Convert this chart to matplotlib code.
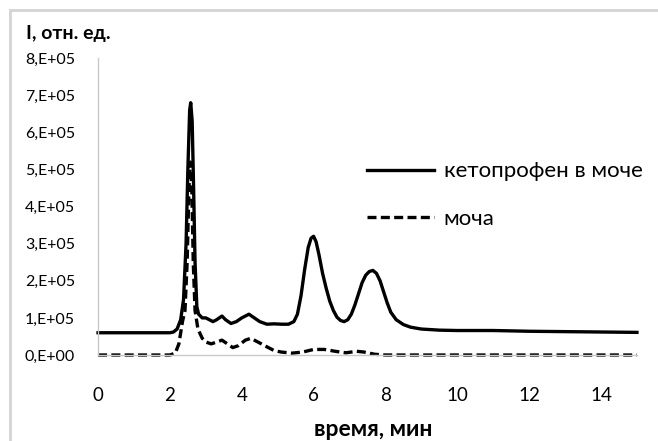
import matplotlib.pyplot as plt
from matplotlib.patches import Rectangle

# retention time, min and intensity (x 1e5)
t_keto = [0, 1.0, 2.0, 2.1, 2.2, 2.3, 2.38, 2.45, 2.5, 2.55, 2.58, 2.62, 2.66, 2.7,
          2.75, 2.8, 2.9, 3.0, 3.1, 3.2, 3.3, 3.45, 3.55, 3.7, 3.85, 4.0, 4.2, 4.35,
          4.5, 4.7, 4.9, 5.1, 5.3, 5.45, 5.55, 5.65, 5.75, 5.85, 5.93, 6.0, 6.07,
          6.15, 6.25, 6.35, 6.45, 6.55, 6.65, 6.75, 6.85, 6.95, 7.05, 7.15, 7.25,
          7.35, 7.45, 7.55, 7.65, 7.75, 7.85, 7.95, 8.05, 8.15, 8.3, 8.5, 8.7, 9.0,
          9.5, 10.0, 11.0, 12.0, 13.0, 14.0, 15.0]
i_keto = [0.6, 0.6, 0.6, 0.62, 0.7, 0.95, 1.5, 3.0, 5.0, 6.6, 6.8, 6.3, 4.5, 2.5,
          1.3, 1.1, 1.0, 1.0, 0.95, 0.9, 0.95, 1.05, 0.95, 0.85, 0.9, 1.0, 1.1, 1.0,
          0.9, 0.83, 0.84, 0.83, 0.83, 0.9, 1.1, 1.6, 2.3, 2.9, 3.15, 3.2, 3.05,
          2.7, 2.2, 1.8, 1.45, 1.2, 1.02, 0.93, 0.9, 0.95, 1.1, 1.35, 1.65,
          1.95, 2.15, 2.25, 2.28, 2.2, 2.0, 1.7, 1.4, 1.15, 0.95, 0.82, 0.75, 0.7,
          0.67, 0.66, 0.66, 0.64, 0.63, 0.62, 0.61]

t_urine = [0, 1.0, 2.0, 2.15, 2.25, 2.35, 2.42, 2.48, 2.53, 2.57, 2.61, 2.65, 2.7,
           2.78, 2.9, 3.0, 3.15, 3.3, 3.45, 3.6, 3.75, 3.9, 4.1, 4.25, 4.45, 4.7,
           4.9, 5.1, 5.4, 5.7, 6.0, 6.3, 6.6, 6.9, 7.2, 7.4, 7.7, 8.0, 10.0, 12.0,
           15.0]
i_urine = [0.0, 0.0, 0.0, 0.05, 0.3, 0.9, 1.2, 2.5, 4.5, 5.2, 4.5, 2.5, 1.2,
           0.7, 0.45, 0.35, 0.3, 0.35, 0.4, 0.3, 0.2, 0.25, 0.4, 0.45, 0.35, 0.22,
           0.12, 0.08, 0.05, 0.08, 0.15, 0.15, 0.1, 0.06, 0.1, 0.08, 0.02, 0.0, 0.0, 0.0,
           0.0]

x_ticks = [0, 2, 4, 6, 8, 10, 12, 14]
y_ticks = [0, 1, 2, 3, 4, 5, 6, 7, 8]
y_labels = ["0,E+00", "1,E+05", "2,E+05", "3,E+05", "4,E+05",
            "5,E+05", "6,E+05", "7,E+05", "8,E+05"]

font = ["Lato", "DejaVu Sans"]
fig = plt.figure(figsize=(6.58, 4.41), dpi=100)
ax = fig.add_axes([0.149, 0.195, 0.819, 0.673])

ax.plot(t_keto, [v * 1e5 for v in i_keto], color="black", lw=2.4,
        label="кетопрофен в моче", clip_on=False)
ax.plot(t_urine, [v * 1e5 for v in i_urine], color="black", lw=2.4,
        ls=(0, (2.7, 1.3)), label="моча", clip_on=False)

ax.set_xlim(0, 15)
ax.set_ylim(0, 8e5)
ax.set_xticks(x_ticks)
ax.set_xticklabels([str(x) for x in x_ticks], fontsize=13.5, family=font)
ax.set_yticks([v * 1e5 for v in y_ticks])
ax.set_yticklabels(y_labels, fontsize=11.5, family=font)
ax.tick_params(length=0)
ax.tick_params(axis="x", pad=23)
ax.tick_params(axis="y", pad=16.5)

for s in ["top", "right"]:
    ax.spines[s].set_visible(False)
for s in ["left", "bottom"]:
    ax.spines[s].set_color("#c8c8c8")
    ax.spines[s].set_linewidth(1)

fig.text(26 / 658, 1 - 33 / 441, "I, отн. ед.", fontsize=14, fontweight="bold",
         family=font, va="center", ha="left")
fig.text(373 / 658, 1 - 430 / 441, "время, мин", fontsize=16.5, fontweight="bold",
         family=font, va="center", ha="center")

ax.legend(loc="upper left", bbox_to_anchor=(0.462, 0.72), frameon=False,
          prop={"family": font, "size": 16}, handlelength=3.0, handletextpad=0.45,
          labelspacing=1.25)

fig.patches.append(Rectangle((10 / 658, -0.05), 1.0, 1 - 10 / 441 + 0.05,
                             transform=fig.transFigure, fill=False,
                             edgecolor="#d4d4d4", lw=2))

fig.savefig("out.png", dpi=100)
